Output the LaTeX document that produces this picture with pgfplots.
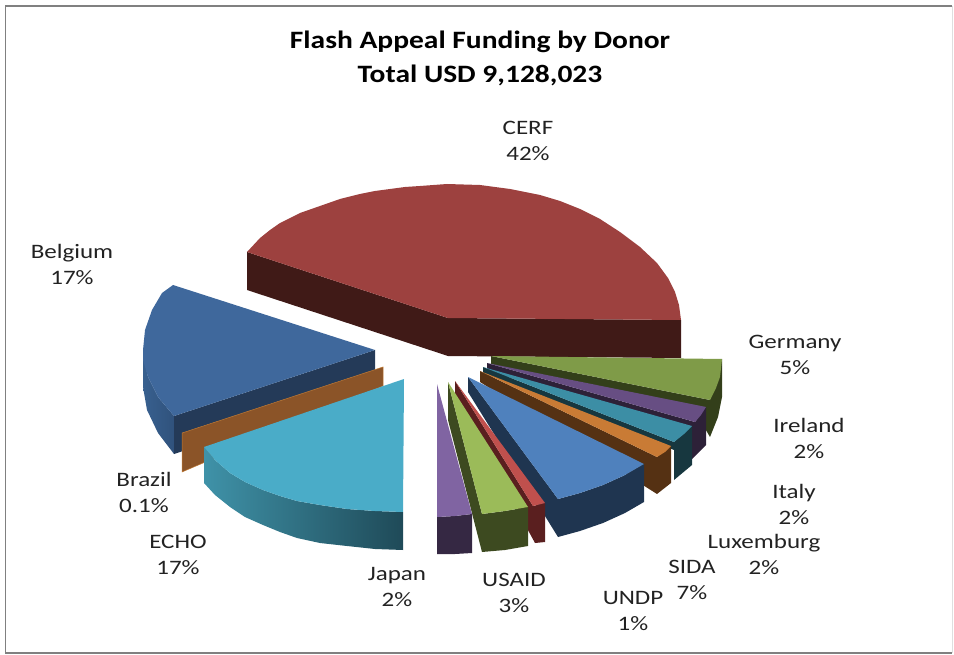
\documentclass[border=0pt]{standalone}
\usepackage{pgfplots}
\pgfplotsset{compat=1.18}
\usepackage{fontspec}
\setmainfont{Carlito}
\definecolor{lab}{HTML}{222222}
\definecolor{HTMLcerf}{HTML}{9D413F}
\definecolor{HTMLcerfs}{HTML}{401A17}
\definecolor{HTMLger}{HTML}{7F9B48}
\definecolor{HTMLgers}{HTML}{333F1A}
\definecolor{HTMLire}{HTML}{674E83}
\definecolor{HTMLires}{HTML}{2D2138}
\definecolor{HTMLita}{HTML}{3C8EA5}
\definecolor{HTMLitas}{HTML}{17373F}
\definecolor{HTMLlux}{HTML}{C97B35}
\definecolor{HTMLluxs}{HTML}{553113}
\definecolor{HTMLsid}{HTML}{4F81BD}
\definecolor{HTMLsids}{HTML}{1F3550}
\definecolor{HTMLund}{HTML}{C0504D}
\definecolor{HTMLunds}{HTML}{5A1F1F}
\definecolor{HTMLusa}{HTML}{9BBB59}
\definecolor{HTMLusas}{HTML}{3D4A20}
\definecolor{HTMLjap}{HTML}{8064A2}
\definecolor{HTMLjaps}{HTML}{352843}
\definecolor{HTMLbel}{HTML}{3F689C}
\definecolor{HTMLbeli}{HTML}{243A58}
\definecolor{HTMLbels}{HTML}{38608F}
\definecolor{HTMLbelr}{HTML}{30527C}
\definecolor{HTMLbra}{HTML}{8B5428}
\definecolor{HTMLbrae}{HTML}{C07A35}
\definecolor{HTMLech}{HTML}{4AACC8}
\definecolor{HTMLechl}{HTML}{3F92A8}
\definecolor{HTMLechr}{HTML}{1F4A58}
\newcommand{\lbl}[3]{\node[align=center,text=lab,inner sep=0pt,xscale=1.22,transform shape,font=\fontsize{20.5}{26}\selectfont] at (axis cs:#1,#2) {#3};}
\begin{document}
\begin{tikzpicture}
\useasboundingbox (0,0) rectangle (954pt,655pt);
\begin{axis}[width=954pt,height=655pt,scale only axis,xmin=0,xmax=954,ymin=0,ymax=655,y dir=reverse,hide axis,clip=false]
% frame
\addplot[draw=gray!25,line width=1pt] coordinates {(952.5,6)(952.5,653)};
\addplot[draw=black!50,line width=1.8pt] coordinates {(952,6)(5.5,6)(5.5,653)(952,653)};
% CERF
\addplot[fill=HTMLcerfs,draw=none] coordinates {(247,252)(448,318)(681,320)(681,358)(448,356)(247,290)} --cycle;
\addplot[fill=HTMLcerf,draw=none] coordinates {(247,252)(260,238)(270,230)(280,223)(290,218)(300,213)(320,206)(340,199)(360,194)(375,191)(390,189)(405,187)(420,186)(447,184)(480,185)(510,189)(525,192)(540,195)(560,201)(580,209)(600,219)(620,232)(640,247)(657,263)(668,278)(675,292)(679,305)(681,320)(448,318)} --cycle;
% Germany
\addplot[fill=HTMLgers,draw=none] coordinates {(491,356)(710,400)(722,359)(722,397)(718,417)(710,437)(700,420)(491,364)} --cycle;
\addplot[fill=HTMLger,draw=none] coordinates {(491,356)(722,359)(720,377)(716,388)(710,400)} --cycle;
% Ireland
\addplot[fill=HTMLires,draw=none] coordinates {(487,363)(695,422)(706,407)(706,445)(692,459)(692,430)(487,371)} --cycle;
\addplot[fill=HTMLire,draw=none] coordinates {(487,363)(706,407)(701,415)(695,422)} --cycle;
% Italy
\addplot[fill=HTMLitas,draw=none] coordinates {(483,367)(674,442)(692,426)(692,465)(674,480)(674,450)(483,373)} --cycle;
\addplot[fill=HTMLita,draw=none] coordinates {(483,367)(692,426)(684,434)(674,442)} --cycle;
% Luxemburg
\addplot[fill=HTMLluxs,draw=none] coordinates {(480,371)(657,457)(671,446)(671,483)(657,494)(480,382)} --cycle;
\addplot[fill=HTMLlux,draw=none] coordinates {(480,371)(671,446)(665,452)(657,457)} --cycle;
% SIDA
\addplot[fill=HTMLsids,draw=none] coordinates {(468,377)(558,499)(580,493)(603,485)(625,475)(644,464)(644,502)(625,513)(603,523)(580,531)(558,537)(468,392)} --cycle;
\addplot[fill=HTMLsid,draw=none] coordinates {(468,377)(644,464)(625,475)(603,485)(580,493)(558,499)} --cycle;
% UNDP
\addplot[fill=HTMLunds,draw=none] coordinates {(455,381)(533,506)(545,503)(545,542)(535,543)(529,532)(455,396)} --cycle;
\addplot[fill=HTMLund,draw=none] coordinates {(455,381)(545,503)(533,506)} --cycle;
% USAID
\addplot[fill=HTMLusas,draw=none] coordinates {(448,382)(482,514)(505,511)(528,507)(528,546)(505,550)(482,552)(448,420)} --cycle;
\addplot[fill=HTMLusa,draw=none] coordinates {(448,382)(528,507)(505,511)(482,514)} --cycle;
% Japan
\addplot[fill=HTMLjaps,draw=none] coordinates {(437,517)(455,516)(472,514)(472,553)(455,554)(437,554)} --cycle;
\addplot[fill=HTMLjap,draw=none] coordinates {(437,384)(472,514)(455,516)(437,517)} --cycle;
% Belgium
\addplot[left color=HTMLbels,right color=HTMLbelr,draw=none] coordinates {(143,355)(148,377)(158,397)(174,416)(174,454)(158,433)(147,410)(143,387)} --cycle;
\addplot[fill=HTMLbeli,draw=none] coordinates {(375,350)(375,388)(174,454)(174,416)} --cycle;
\addplot[fill=HTMLbel,draw=none] coordinates {(173,285)(375,350)(174,416)(158,397)(148,377)(143,360)(143,350)(145,330)(152,310)(162,293)} --cycle;
% Brazil
\addplot[fill=HTMLbra,draw=HTMLbrae,line width=0.5pt] coordinates {(383,367)(383,386)(182,472)(182,433)} --cycle;
% ECHO
\addplot[left color=HTMLechl,right color=HTMLechr,draw=none] coordinates {(204,447)(215,460)(230,473)(245,482)(263,490)(280,496)(297,501)(320,505)(347,509)(375,511)(403,512)(403,550)(375,549)(347,546)(320,543)(297,538)(280,532)(263,525)(245,517)(230,507)(215,495)(204,483)} --cycle;
\addplot[fill=HTMLech,draw=none] coordinates {(404,379)(403,512)(375,511)(347,509)(320,505)(297,501)(280,496)(263,490)(245,482)(230,473)(215,460)(204,447)} --cycle;
% labels
\node[align=center,text=black,inner sep=0pt,xscale=1.18,transform shape,font=\bfseries\fontsize{25}{34}\selectfont] at (axis cs:480,58) {Flash Appeal Funding by Donor\\Total USD 9,128,023};
\lbl{528}{141}{CERF\\42\%}
\lbl{795}{355}{Germany\\5\%}
\lbl{809}{438}{Ireland\\2\%}
\lbl{794}{504}{Italy\\2\%}
\lbl{764}{554}{Luxemburg\\2\%}
\lbl{692}{580}{SIDA\\7\%}
\lbl{633}{611}{UNDP\\1\%}
\lbl{514}{593}{USAID\\3\%}
\lbl{397}{587}{Japan\\2\%}
\lbl{178}{555}{ECHO\\17\%}
\lbl{144}{492}{Brazil\\0.1\%}
\lbl{72}{264}{Belgium\\17\%}
\end{axis}
\end{tikzpicture}
\end{document}
